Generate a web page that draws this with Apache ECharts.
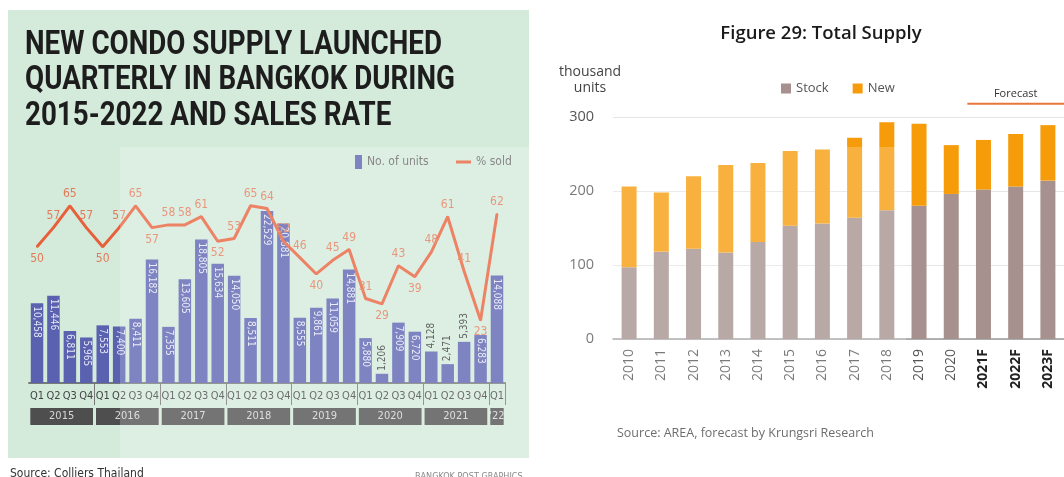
<!DOCTYPE html>
<html><head><meta charset="utf-8">
<script src="https://cdn.jsdelivr.net/npm/echarts@6/dist/echarts.min.js"></script>
<style>html,body{margin:0;padding:0;background:#fff}#c{width:1064px;height:477px}</style>
</head><body><div id="c"></div>
<script>
// ---------- Left chart data (Bangkok Post) ----------
const quarterCats = [
  'Q1 2015','Q2 2015','Q3 2015','Q4 2015',
  'Q1 2016','Q2 2016','Q3 2016','Q4 2016',
  'Q1 2017','Q2 2017','Q3 2017','Q4 2017',
  'Q1 2018','Q2 2018','Q3 2018','Q4 2018',
  'Q1 2019','Q2 2019','Q3 2019','Q4 2019',
  'Q1 2020','Q2 2020','Q3 2020','Q4 2020',
  'Q1 2021','Q2 2021','Q3 2021','Q4 2021',
  'Q1 2022'
];
const unitsLaunched = [10458,11446,6811,5965, 7553,7400,8411,16182, 7355,13605,18805,15634,
  14050,8511,22529,20881, 8555,9861,11059,14881, 5880,1206,7909,6720, 4128,2471,5393,6283, 14088];
const pctSold = [50,57,65,57, 50,57,65,57, 58,58,61,52, 53,65,64,52, 46,40,45,49, 31,29,43,39, 48,61,41,23, 62];
const yearLabels = ['2015','2016','2017','2018','2019','2020','2021',"'22"];
const yearSpans = [[0,3],[4,7],[8,11],[12,15],[16,19],[20,23],[24,27],[28,28]];
const titleLines = ['NEW CONDO SUPPLY LAUNCHED','QUARTERLY IN BANGKOK DURING','2015-2022 AND SALES RATE'];

// ---------- Right chart data (Krungsri) ----------
const supplyYears = ['2010','2011','2012','2013','2014','2015','2016','2017','2018','2019','2020','2021F','2022F','2023F'];
const stock = [97,118,122,117,131,153,156,164,174,180,196,202,206,214];
const newSupply = [109,80,98,118,107,101,100,108,119,111,66,67,71,75];

const NARROW = "'Liberation Sans Narrow','DejaVu Sans Condensed','Roboto Condensed','Liberation Sans',sans-serif";
const SANS = "'Open Sans','Lato',sans-serif";
const TITLE_FONT = "bold 34px Roboto, 'Liberation Sans', sans-serif";

// horizontal squeeze for the condensed headline
const mctx = document.createElement('canvas').getContext('2d');
mctx.font = TITLE_FONT;
const titleScale = 430 / mctx.measureText(titleLines[1]).width;

const chart = echarts.init(document.getElementById('c'), null, {renderer:'canvas'});

function isLocalMin(i){
  const v = pctSold[i];
  const l = i>0 ? pctSold[i-1] : Infinity;
  const r = i<pctSold.length-1 ? pctSold[i+1] : Infinity;
  return v < l && v < r;
}

const option = {
  animation: false,
  backgroundColor: '#ffffff',
  title: [
    {text:'Figure 29: Total Supply', left: 816, top: 19, textAlign:'center',
     textStyle:{fontFamily:SANS, fontSize:18.5, fontWeight:600, color:'#1a1a1a'}},
    {text:'thousand\nunits', left: 585, top: 59, textAlign:'center',
     textStyle:{fontFamily:SANS, fontSize:14, fontWeight:'normal', color:'#444', lineHeight:16}},
    {text:'Source: Colliers Thailand', left: 5, top: 463,
     textStyle:{fontFamily:NARROW, fontSize:12, fontWeight:'normal', color:'#333'}},
    {text:'BANGKOK POST GRAPHICS', left: 410, top: 467,
     textStyle:{fontFamily:NARROW, fontSize:9, fontWeight:'normal', color:'#888'}},
    {text:'Source: AREA, forecast by Krungsri Research', left: 612, top: 422,
     textStyle:{fontFamily:SANS, fontSize:12.5, fontWeight:'normal', color:'#444'}}
  ],
  legend: [
    {data:['No. of units'], left: 350, top: 150, icon:'rect', itemWidth:7, itemHeight:14,
     textStyle:{fontFamily:NARROW, fontSize:12, color:'#666'}},
    {data:['% sold'], left: 451, top: 151, icon:'rect', itemWidth:15, itemHeight:3,
     textStyle:{fontFamily:NARROW, fontSize:12, color:'#666'}},
    {data:['Stock','New'], left: 776, top: 77, icon:'rect', itemWidth:10, itemHeight:10, itemGap:24,
     textStyle:{fontFamily:SANS, fontSize:13, color:'#555'}}
  ],
  grid: [
    {left: 28.8, width: 476.4, top: 154, height: 229},
    {left: 28.8, width: 476.4, top: 408, height: 17},
    {left: 613, width: 458, top: 117, height: 222}
  ],
  xAxis: [
    {type:'category', gridIndex:0, data: quarterCats,
     axisLine:{lineStyle:{color:'#555', width:1.5}},
     axisTick:{show:true, length:22, lineStyle:{color:'#777'},
       interval:(i)=> i>0 && quarterCats[i] && quarterCats[i].startsWith('Q1')},
     axisLabel:{formatter:(v)=>v.split(' ')[0], fontFamily:NARROW, fontSize:11, color:'#444', margin:8, interval:0}},
    {type:'category', gridIndex:1, data: quarterCats, show:false},
    {type:'category', gridIndex:2, data: supplyYears,
     axisLine:{lineStyle:{color:'#999', width:1.5}},
     axisTick:{show:false},
     axisLabel:{rotate:90, fontFamily:SANS, fontSize:14, color:'#555', margin:10, interval:0,
       formatter:(v)=> v.endsWith('F') ? '{f|'+v+'}' : v,
       rich:{f:{fontFamily:SANS, fontSize:14, fontWeight:'bold', color:'#222'}}}}
  ],
  yAxis: [
    {type:'value', gridIndex:0, min:0, max:30000, show:false},
    {type:'value', gridIndex:0, min:0, max:84, show:false},
    {type:'value', gridIndex:1, min:0, max:1, show:false},
    {type:'value', gridIndex:2, min:0, max:300, interval:100,
     axisLine:{show:false}, axisTick:{show:false},
     axisLabel:{fontFamily:SANS, fontSize:14.5, color:'#555', margin:19},
     splitLine:{lineStyle:{color:'#e6e6e6'}}}
  ],
  series: [
    {name:'No. of units', type:'bar', xAxisIndex:0, yAxisIndex:0, barWidth:12.5,
     itemStyle:{color:'#5a62b0'},
     label:{show:true, position:'insideTop', rotate:-90, align:'left', verticalAlign:'middle', distance:3,
       fontFamily:NARROW, fontSize:10, color:'#e4e6f5',
       formatter:(p)=>p.value.toLocaleString('en-US')},
     data: unitsLaunched.map(v => v < 5500
       ? {value:v, label:{position:'top', rotate:90, align:'left', verticalAlign:'middle', color:'#333', distance:3}}
       : v)},
    {name:'% sold', type:'line', xAxisIndex:0, yAxisIndex:1, z:5,
     symbol:'circle', symbolSize:2, showSymbol:true,
     lineStyle:{color:'#e8603a', width:3}, itemStyle:{color:'#e8603a'},
     label:{show:true, fontFamily:NARROW, fontSize:12, color:'#e27a58', distance:5},
     data: pctSold.map((v,i)=>({value:v, label:{show:true, position: isLocalMin(i) ? 'bottom' : 'top'}}))},
    {name:'years', type:'custom', xAxisIndex:1, yAxisIndex:2,
     encode:{x:[0,1], y:2},
     data: yearSpans.map(s => [s[0], s[1], 0]),
     renderItem:(params, api)=>{
       const s = api.coord([api.value(0), 0]);
       const e = api.coord([api.value(1), 1]);
       const bw = api.size([1,0])[0];
       const x0 = s[0]-bw/2+1.5, x1 = e[0]+bw/2-1.5;
       const yTop = e[1], yBot = s[1];
       return {type:'group', children:[
         {type:'rect', shape:{x:x0, y:yTop, width:x1-x0, height:yBot-yTop}, style:{fill:'#4e4e4e'}},
         {type:'text', style:{text:yearLabels[params.dataIndex], x:(x0+x1)/2, y:(yTop+yBot)/2,
           align:'center', verticalAlign:'middle', fill:'#d6d6d6', font:"11px "+NARROW}}
       ]};
     }},
    {name:'Stock', type:'bar', stack:'supply', xAxisIndex:2, yAxisIndex:3, barWidth:15,
     itemStyle:{color:'#a6918e'}, data: stock},
    {name:'New', type:'bar', stack:'supply', xAxisIndex:2, yAxisIndex:3, barWidth:15,
     itemStyle:{color:'#f69c0a'}, data: newSupply}
  ]
};
chart.setOption(option);

const baseGraphics = [
  {type:'rect', z:-10, silent:true, shape:{x:8, y:10, width:521, height:448}, style:{fill:'#d4eadb'}},
  {type:'rect', z:100, silent:true, shape:{x:120, y:147, width:786, height:313}, style:{fill:'rgba(255,255,255,0.22)'}}
];
const titleGraphics = titleLines.map((t,i)=>({
  type:'text', silent:true, x:25, y:45 + i*35.5, scaleX:titleScale, scaleY:1,
  style:{text:t, x:0, y:0, font:TITLE_FONT, fill:'#1d1d1d', verticalAlign:'middle', align:'left'}
}));

// Forecast annotation placed with the chart's own scale
const fL = chart.convertToPixel({xAxisIndex:2, yAxisIndex:3}, ['2021F', 318]);
const fM = chart.convertToPixel({xAxisIndex:2, yAxisIndex:3}, ['2022F', 318]);
const band = fM[0] - fL[0];
chart.setOption({graphic: baseGraphics.concat(titleGraphics, [
  {type:'line', silent:true, shape:{x1:fL[0]-band/2, y1:fL[1], x2:fL[0]+band*2.5, y2:fL[1]}, style:{stroke:'#e8763a', lineWidth:2}},
  {type:'text', silent:true, style:{text:'Forecast', x:fM[0], y:fM[1]-4, align:'center', verticalAlign:'bottom',
    font:"11px "+SANS, fill:'#333'}}
])});
</script>
</body></html>
